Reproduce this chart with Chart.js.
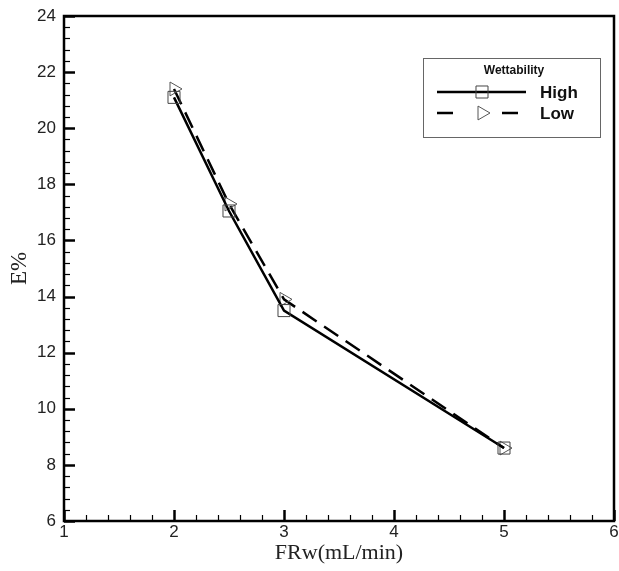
<!DOCTYPE html>
<html>
<head>
<meta charset="utf-8">
<script src="https://cdn.jsdelivr.net/npm/chart.js@4/dist/chart.umd.min.js"></script>
<style>
html,body{margin:0;padding:0;background:#fff;}
#wrap{width:619px;height:571px;position:relative;}
</style>
</head>
<body>
<div id="wrap"><canvas id="c" width="619" height="571"></canvas></div>
<script>
const flowRates = [2, 2.5, 3, 5];
const highValues = [21.1, 17.05, 13.5, 8.6];
const lowValues = [21.4, 17.3, 13.9, 8.6];
const seriesLabels = ['High', 'Low'];
const legendTitle = 'Wettability';
const xTitle = 'FRw(mL/min)';
const yTitle = 'E%';

function pts(xs, ys){ return xs.map((x,i)=>({x:x, y:ys[i]})); }

const innerTicks = {
  id:'innerTicks',
  afterDraw(chart){
    const ctx = chart.ctx, a = chart.chartArea;
    const xs = chart.scales.x, ys = chart.scales.y;
    ctx.save();
    ctx.strokeStyle = '#000';
    for (let i = 0; i <= 25; i++){
      const v = xs.min + i*0.2;
      const px = Math.round(xs.getPixelForValue(v)) + 0.5;
      const major = i % 5 === 0;
      const len = major ? 11 : 6;
      ctx.lineWidth = major ? 2.5 : 1.2;
      ctx.beginPath(); ctx.moveTo(px, a.bottom); ctx.lineTo(px, a.bottom - len); ctx.stroke();
    }
    for (let i = 0; i <= 45; i++){
      const v = ys.min + i*0.4;
      const py = Math.round(ys.getPixelForValue(v)) + 0.5;
      const major = i % 5 === 0;
      const len = major ? 11 : 6;
      ctx.lineWidth = major ? 2.5 : 1.2;
      ctx.beginPath(); ctx.moveTo(a.left, py); ctx.lineTo(a.left + len, py); ctx.stroke();
    }
    ctx.lineWidth = 2.5;
    ctx.strokeRect(a.left, a.top, a.right - a.left, a.bottom - a.top);

    // legend
    const bx = 423, by = 58, bw = 177, bh = 79;
    ctx.lineWidth = 1;
    ctx.strokeStyle = '#666';
    ctx.strokeRect(bx + 0.5, by + 0.5, bw, bh);
    ctx.fillStyle = '#111';
    ctx.textAlign = 'center'; ctx.textBaseline = 'middle';
    ctx.font = 'bold 12px "Liberation Sans", Arial, sans-serif';
    ctx.fillText(legendTitle, 514, 71);
    const rows = [92, 113];
    chart.data.datasets.forEach((ds, i) => {
      const y = rows[i];
      ctx.save();
      ctx.strokeStyle = ds.borderColor;
      ctx.lineWidth = ds.borderWidth;
      ctx.beginPath();
      if (ds.borderDash && ds.borderDash.length){
        ctx.moveTo(437, y); ctx.lineTo(453, y);
        ctx.moveTo(502, y); ctx.lineTo(518, y);
      } else {
        ctx.moveTo(437, y); ctx.lineTo(526, y);
      }
      ctx.stroke();
      ctx.restore();
      ctx.save();
      ctx.fillStyle = 'rgba(0,0,0,0)';
      ctx.strokeStyle = ds.pointBorderColor;
      ctx.lineWidth = ds.pointBorderWidth;
      Chart.helpers.drawPoint(ctx, {
        pointStyle: ds.pointStyle, rotation: ds.pointRotation || 0,
        radius: ds.pointRadius, borderWidth: ds.pointBorderWidth
      }, 482, y);
      ctx.restore();
      ctx.fillStyle = '#111';
      ctx.textAlign = 'left';
      ctx.font = 'bold 17px "Liberation Sans", Arial, sans-serif';
      ctx.fillText(ds.label, 540, y + 1);
    });
    ctx.restore();
  }
};

new Chart(document.getElementById('c'), {
  type: 'line',
  data: {
    datasets: [
      {
        label: seriesLabels[0], data: pts(flowRates, highValues),
        borderColor: '#000', borderWidth: 2.5, fill: false, tension: 0,
        pointStyle: 'rect', pointRadius: 8.5, pointBorderColor: '#444',
        pointBorderWidth: 1, pointBackgroundColor: 'rgba(0,0,0,0)'
      },
      {
        label: seriesLabels[1], data: pts(flowRates, lowValues),
        borderColor: '#000', borderWidth: 2.5, borderDash: [17, 9], fill: false, tension: 0,
        pointStyle: 'triangle', pointRotation: 90, pointRadius: 8, pointBorderColor: '#555',
        pointBorderWidth: 1, pointBackgroundColor: 'rgba(0,0,0,0)'
      }
    ]
  },
  options: {
    responsive: false, animation: false,
    layout: { autoPadding: false, padding: { top: 16, right: 5, left: 0, bottom: 0 } },
    plugins: { legend: { display: false }, tooltip: { enabled: false } },
    scales: {
      x: {
        type: 'linear', min: 1, max: 6,
        ticks: { stepSize: 1, color: '#222', padding: 1, maxRotation: 0,
          font: { family: '"Liberation Sans", Arial, sans-serif', size: 17 } },
        grid: { display: false, drawTicks: false },
        border: { display: false },
        title: { display: true, text: xTitle, color: '#222', padding: { top: 0, bottom: 5 },
          font: { family: '"Liberation Serif", "Times New Roman", serif', size: 22 } },
        afterFit(s){ s.height = 50; s.paddingLeft = 0; s.paddingRight = 0; }
      },
      y: {
        min: 6, max: 24,
        ticks: { stepSize: 2, color: '#222', padding: 8,
          font: { family: '"Liberation Sans", Arial, sans-serif', size: 17 } },
        grid: { display: false, drawTicks: false },
        border: { display: false },
        title: { display: true, text: yTitle, color: '#222', padding: { top: 6, bottom: 0 },
          font: { family: '"Liberation Serif", "Times New Roman", serif', size: 23 } },
        afterFit(s){ s.width = 64; s.paddingTop = 0; s.paddingBottom = 0; }
      }
    }
  },
  plugins: [innerTicks]
});
</script>
</body>
</html>
